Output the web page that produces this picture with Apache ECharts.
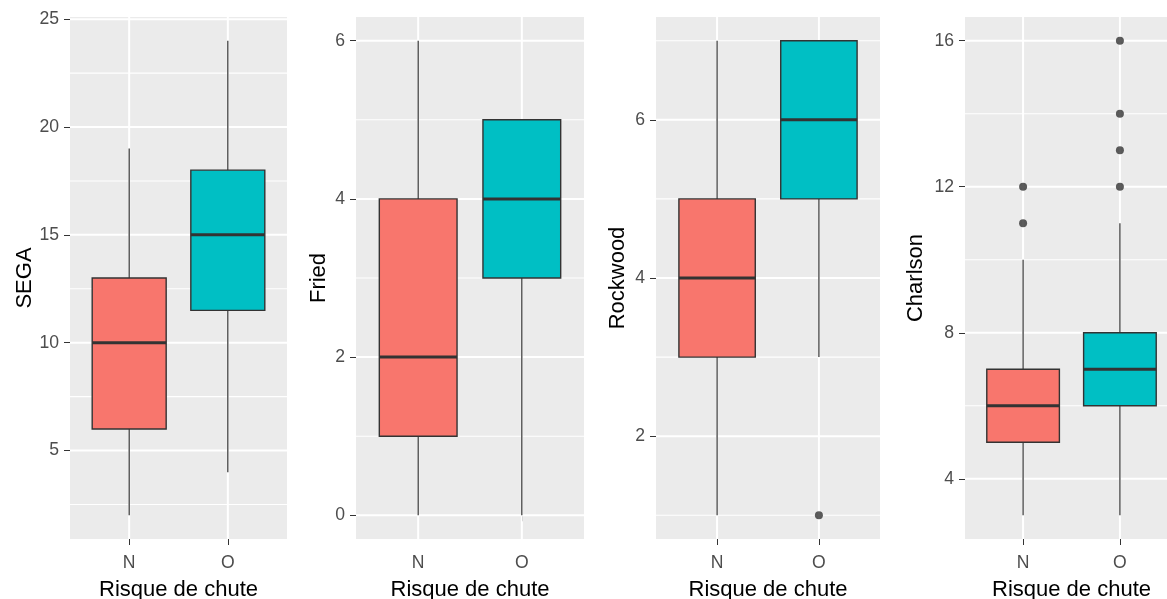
<!DOCTYPE html>
<html>
<head>
<meta charset="utf-8">
<script src="https://cdn.jsdelivr.net/npm/echarts@6/dist/echarts.min.js"></script>
<style>html,body{margin:0;padding:0;background:#fff}#c{width:1167px;height:599px}</style>
</head>
<body>
<div id="c"></div>
<script>
// ---- data (min, Q1, median, Q3, max of whiskers) ----
const categories = ['N', 'O'];
const xTitle = 'Risque de chute';

const segaN = [2, 6, 10, 13, 19];
const segaO = [4, 11.5, 15, 18, 24];
const segaOutN = [];
const segaOutO = [];
const segaTicks = [5, 10, 15, 20, 25];
const segaMinor = [2.5, 7.5, 12.5, 17.5, 22.5];

const friedN = [0, 1, 2, 4, 6];
const friedO = [0, 3, 4, 5, 5];
const friedOutN = [];
const friedOutO = [];
const friedTicks = [0, 2, 4, 6];
const friedMinor = [1, 3, 5];

const rockN = [1, 3, 4, 5, 7];
const rockO = [3, 5, 6, 7, 7];
const rockOutN = [];
const rockOutO = [1];
const rockTicks = [2, 4, 6];
const rockMinor = [1, 3, 5, 7];

const charlN = [3, 5, 6, 7, 10];
const charlO = [3, 6, 7, 8, 11];
const charlOutN = [11, 12];
const charlOutO = [12, 13, 14, 16];
const charlTicks = [4, 8, 12, 16];
const charlMinor = [6, 10, 14];

// ---- styling ----
const FONT = "'Liberation Sans', Arial, sans-serif";
const fills = ['#F8766D', '#00BFC4'];
const panels = [
  {name: 'SEGA', N: segaN, O: segaO, outN: segaOutN, outO: segaOutO, ticks: segaTicks, minor: segaMinor, left: 70, width: 217, gap: 34},
  {name: 'Fried', N: friedN, O: friedO, outN: friedOutN, outO: friedOutO, ticks: friedTicks, minor: friedMinor, left: 356, width: 228, gap: 26},
  {name: 'Rockwood', N: rockN, O: rockO, outN: rockOutN, outO: rockOutO, ticks: rockTicks, minor: rockMinor, left: 656, width: 224, gap: 27},
  {name: 'Charlson', N: charlN, O: charlO, outN: charlOutN, outO: charlOutO, ticks: charlTicks, minor: charlMinor, left: 965, width: 213, gap: 38}
];

const grids = [], xAxes = [], yAxes = [], series = [];

panels.forEach((p, i) => {
  const all = p.N.concat(p.O, p.outN, p.outO);
  const lo = Math.min.apply(null, all), hi = Math.max.apply(null, all);
  const pad = (hi - lo) * 0.05;
  const catPos = categories.map((c, k) => k + 1);

  grids.push({left: p.left, width: p.width, top: 17, height: 522, show: true,
    backgroundColor: '#EBEBEB', borderWidth: 0, containLabel: false, outerBoundsMode: 'none'});
  xAxes.push({type: 'value', gridIndex: i, min: 0.4, max: categories.length + 0.6,
    axisLine: {show: false}, splitLine: {show: false},
    axisTick: {show: true, length: 6, customValues: catPos, lineStyle: {color: '#333333', width: 1}},
    axisLabel: {customValues: catPos, margin: 15, color: '#4D4D4D', fontSize: 17.6, fontFamily: FONT,
      formatter: v => categories[Math.round(v) - 1] || ''},
    name: xTitle, nameLocation: 'middle', nameGap: 40,
    nameTextStyle: {color: '#000', fontSize: 22, fontFamily: FONT}});
  yAxes.push({type: 'value', gridIndex: i, min: lo - pad, max: hi + pad,
    axisLine: {show: false}, splitLine: {show: false},
    axisTick: {show: true, length: 6, customValues: p.ticks, lineStyle: {color: '#333333', width: 1}},
    axisLabel: {customValues: p.ticks, margin: 11, color: '#4D4D4D', fontSize: 17.6, fontFamily: FONT},
    name: p.name, nameLocation: 'middle', nameRotate: 90, nameGap: p.gap,
    nameTextStyle: {color: '#000', fontSize: 22, fontFamily: FONT}});

  // grid lines (minor horizontal, major horizontal, vertical at categories)
  const hLine = (w) => function (params, api) {
    const cs = params.coordSys;
    const y = api.coord([1, api.value(0)])[1];
    return {type: 'line', shape: {x1: cs.x, y1: y, x2: cs.x + cs.width, y2: y},
      style: {stroke: '#FFFFFF', lineWidth: w}};
  };
  series.push({type: 'custom', xAxisIndex: i, yAxisIndex: i, z: 1, silent: true,
    data: p.minor.map(v => [v]), encode: {y: 0}, renderItem: hLine(1.1)});
  series.push({type: 'custom', xAxisIndex: i, yAxisIndex: i, z: 1, silent: true,
    data: p.ticks.map(v => [v]), encode: {y: 0}, renderItem: hLine(2)});
  series.push({type: 'custom', xAxisIndex: i, yAxisIndex: i, z: 1, silent: true,
    data: catPos.map(v => [v]), encode: {x: 0},
    renderItem: function (params, api) {
      const cs = params.coordSys;
      const x = api.coord([api.value(0), lo])[0];
      return {type: 'line', shape: {x1: x, y1: cs.y, x2: x, y2: cs.y + cs.height},
        style: {stroke: '#FFFFFF', lineWidth: 2}};
    }});

  // boxes
  series.push({type: 'custom', xAxisIndex: i, yAxisIndex: i, z: 3,
    data: [[1].concat(p.N), [2].concat(p.O)],
    encode: {x: 0, y: [1, 2, 3, 4, 5]},
    renderItem: function (params, api) {
      const x = api.value(0);
      const c = k => api.coord([x, api.value(k)]);
      const pLo = c(1), pQ1 = c(2), pMed = c(3), pQ3 = c(4), pHi = c(5);
      const w = api.size([0.75, 0])[0];
      const cx = pMed[0];
      return {type: 'group', children: [
        {type: 'line', shape: {x1: cx, y1: pLo[1], x2: cx, y2: pQ1[1]}, style: {stroke: '#333333', lineWidth: 1.2}},
        {type: 'line', shape: {x1: cx, y1: pQ3[1], x2: cx, y2: pHi[1]}, style: {stroke: '#333333', lineWidth: 1.2}},
        {type: 'rect', shape: {x: cx - w / 2, y: pQ3[1], width: w, height: pQ1[1] - pQ3[1]},
          style: {fill: fills[params.dataIndex], stroke: '#333333', lineWidth: 1.4}},
        {type: 'line', shape: {x1: cx - w / 2, y1: pMed[1], x2: cx + w / 2, y2: pMed[1]},
          style: {stroke: '#333333', lineWidth: 3}}
      ]};
    }});

  // outliers
  const outs = p.outN.map(v => [1, v]).concat(p.outO.map(v => [2, v]));
  if (outs.length) {
    series.push({type: 'scatter', xAxisIndex: i, yAxisIndex: i, z: 4, data: outs,
      symbol: 'circle', symbolSize: 8, itemStyle: {color: '#333333'}});
  }
});

const chart = echarts.init(document.getElementById('c'), null, {renderer: 'canvas'});
chart.setOption({animation: false, backgroundColor: '#FFFFFF', grid: grids, xAxis: xAxes, yAxis: yAxes, series: series});
</script>
</body>
</html>
